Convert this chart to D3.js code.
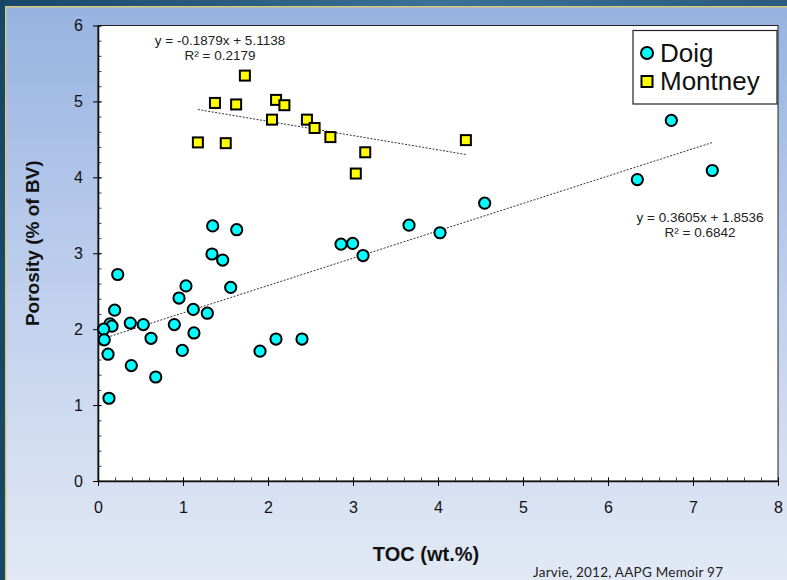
<!DOCTYPE html>
<html>
<head>
<meta charset="utf-8">
<script src="https://cdn.jsdelivr.net/npm/d3@7"></script>
<style>
  html, body { margin: 0; padding: 0; background: #1b4a6e; }
  svg { display: block; font-family: "Liberation Sans", Arial, sans-serif; }
</style>
</head>
<body>
<svg id="chart" width="787" height="580"></svg>
<script>
// data (TOC wt.% vs porosity % of BV)
const doigToc = [1.349, 1.632, 1.341, 1.467, 0.232, 1.035, 1.561, 0.953, 1.121, 0.196,
                 1.286, 0.380, 0.533, 0.898, 0.141, 0.165, 0.067, 1.129, 0.624, 0.074,
                 0.992, 0.118, 1.906, 2.094, 2.400, 0.392, 0.679, 0.129, 2.859, 2.996,
                 3.118, 3.659, 6.745, 7.227, 6.345, 4.549, 4.024];
const doigPor = [3.36, 3.31, 2.99, 2.91, 2.72, 2.57, 2.55, 2.41, 2.26, 2.25,
                 2.21, 2.08, 2.06, 2.06, 2.07, 2.04, 2.00, 1.95, 1.88, 1.86,
                 1.72, 1.67, 1.71, 1.87, 1.87, 1.52, 1.37, 1.09, 3.12, 3.13,
                 2.97, 3.37, 4.75, 4.09, 3.97, 3.66, 3.27];

const montneyToc = [1.175, 1.376, 1.503, 1.625, 1.728, 2.095, 2.047, 2.193, 2.458, 2.548,
                    2.734, 3.144, 3.033, 4.328];
const montneyPor = [4.46, 4.98, 4.45, 4.96, 5.34, 5.02, 4.76, 4.95, 4.76, 4.65,
                    4.53, 4.33, 4.05, 4.49];

// linear fits as printed on the chart
const doigFit = { slope: 0.3605, intercept: 1.8536, label: "y = 0.3605x + 1.8536", r2: "R² = 0.6842" };
const montneyFit = { slope: -0.1879, intercept: 5.1138, label: "y = -0.1879x + 5.1138", r2: "R² = 0.2179" };

const xTicks = [0, 1, 2, 3, 4, 5, 6, 7, 8];
const yTicks = [0, 1, 2, 3, 4, 5, 6];
const seriesNames = ["Doig", "Montney"];

const svg = d3.select("#chart");
const W = 787, H = 580;
const margin = { top: 25.5, right: 9, bottom: 99, left: 98 };

// ---- slide background ----
const defs = svg.append("defs");
const topGrad = defs.append("linearGradient").attr("id", "topbar").attr("x1", 0).attr("x2", 1);
topGrad.append("stop").attr("offset", "0%").attr("stop-color", "#184669");
topGrad.append("stop").attr("offset", "55%").attr("stop-color", "#3b7197");
topGrad.append("stop").attr("offset", "100%").attr("stop-color", "#2a5b80");

const panelGrad = defs.append("linearGradient").attr("id", "panel")
    .attr("x1", 0).attr("x2", 0).attr("y1", 0).attr("y2", 1);
panelGrad.append("stop").attr("offset", "0%").attr("stop-color", "#97b3e1");
panelGrad.append("stop").attr("offset", "45%").attr("stop-color", "#bccdec");
panelGrad.append("stop").attr("offset", "100%").attr("stop-color", "#e2e9f5");

svg.append("rect").attr("width", W).attr("height", H).attr("fill", "#174869");
svg.append("rect").attr("x", 0).attr("y", 0).attr("width", W).attr("height", 7).attr("fill", "url(#topbar)");
svg.append("rect").attr("x", 5).attr("y", 6).attr("width", W - 5).attr("height", H - 6).attr("fill", "#d9c97a");
svg.append("rect").attr("x", 6.5).attr("y", 7.5).attr("width", W - 6.5).attr("height", H - 7.5).attr("fill", "url(#panel)");

// ---- scales ----
const x = d3.scaleLinear().domain([0, 8]).range([margin.left, W - margin.right]);
const y = d3.scaleLinear().domain([0, 6]).range([H - margin.bottom, margin.top]);

// plot area
svg.append("rect")
    .attr("x", x(0)).attr("y", y(6))
    .attr("width", x(8) - x(0)).attr("height", y(0) - y(6))
    .attr("fill", "#fff").attr("stroke", "#222").attr("stroke-width", 1);

// ---- axes ----
const minorX = d3.range(0, 8.001, 0.2);
const minorY = d3.range(0, 6.001, 0.2);

svg.append("g").attr("transform", `translate(0,${y(0)})`)
    .call(d3.axisBottom(x).tickValues(minorX).tickSize(-3.5).tickFormat(""))
    .call(g => g.select(".domain").remove())
    .call(g => g.selectAll("line").attr("stroke", "#444"));

svg.append("g").attr("transform", `translate(${x(0)},0)`)
    .call(d3.axisLeft(y).tickValues(minorY).tickSize(-3.5).tickFormat(""))
    .call(g => g.select(".domain").remove())
    .call(g => g.selectAll("line").attr("stroke", "#444"));

const xAxis = svg.append("g").attr("transform", `translate(0,${y(0)})`)
    .call(d3.axisBottom(x).tickValues(xTicks).tickFormat(d3.format("d"))
        .tickSize(5).tickPadding(16).tickSizeOuter(0));
xAxis.selectAll(".tick line").attr("y1", -3.5);
xAxis.select(".domain").attr("stroke", "#111").attr("stroke-width", 1.6);
xAxis.selectAll("text").attr("font-size", 16).attr("fill", "#111")
    .attr("font-family", "'Liberation Sans', Arial, sans-serif");

const yAxis = svg.append("g").attr("transform", `translate(${x(0)},0)`)
    .call(d3.axisLeft(y).tickValues(yTicks).tickFormat(d3.format("d"))
        .tickSize(5).tickPadding(10).tickSizeOuter(0));
yAxis.selectAll(".tick line").attr("x1", 3.5);
yAxis.select(".domain").attr("stroke", "#111").attr("stroke-width", 1.6);
yAxis.selectAll("text").attr("font-size", 16).attr("fill", "#111")
    .attr("font-family", "'Liberation Sans', Arial, sans-serif");

// axis titles
svg.append("text")
    .attr("x", (x(0) + x(8)) / 2 - 12).attr("y", 561)
    .attr("text-anchor", "middle").attr("font-weight", "bold").attr("font-size", 20)
    .attr("fill", "#111").text("TOC (wt.%)");

svg.append("text")
    .attr("transform", `translate(39,${(y(0) + y(6)) / 2 - 10}) rotate(-90)`)
    .attr("text-anchor", "middle").attr("font-weight", "bold").attr("font-size", 19)
    .attr("fill", "#111").text("Porosity (% of BV)");

// ---- trend lines ----
function fitLine(xs, fit) {
    const [x0, x1] = d3.extent(xs);
    return [[x0, fit.slope * x0 + fit.intercept], [x1, fit.slope * x1 + fit.intercept]];
}
const line = d3.line().x(d => x(d[0])).y(d => y(d[1]));

svg.append("path").datum(fitLine(doigToc, doigFit))
    .attr("d", line).attr("fill", "none").attr("stroke", "#333")
    .attr("stroke-width", 1).attr("stroke-dasharray", "2,1.5");
svg.append("path").datum(fitLine(montneyToc, montneyFit))
    .attr("d", line).attr("fill", "none").attr("stroke", "#333")
    .attr("stroke-width", 1).attr("stroke-dasharray", "2,1.5");

// ---- points ----
const doig = doigToc.map((v, i) => [v, doigPor[i]]);
const montney = montneyToc.map((v, i) => [v, montneyPor[i]]);

svg.append("g").selectAll("circle").data(doig).enter().append("circle")
    .attr("cx", d => x(d[0])).attr("cy", d => y(d[1])).attr("r", 5.6)
    .attr("fill", "#00ffff").attr("stroke", "#000").attr("stroke-width", 2);

const sq = 10;
svg.append("g").selectAll("rect").data(montney).enter().append("rect")
    .attr("x", d => x(d[0]) - sq / 2).attr("y", d => y(d[1]) - sq / 2)
    .attr("width", sq).attr("height", sq)
    .attr("fill", "#ffff00").attr("stroke", "#000").attr("stroke-width", 2);

// ---- equations ----
function equation(fit, cx, cy) {
    const t = svg.append("text").attr("text-anchor", "middle")
        .attr("font-size", 13.5).attr("fill", "#222");
    t.append("tspan").attr("x", cx).attr("y", cy).text(fit.label);
    t.append("tspan").attr("x", cx).attr("y", cy + 15).text(fit.r2);
}
equation(montneyFit, 220, 45);
equation(doigFit, 700, 222);

// ---- legend ----
const legend = svg.append("g");
legend.append("rect").attr("x", 633).attr("y", 30.5).attr("width", 144).attr("height", 73.5)
    .attr("fill", "#fff").attr("stroke", "#222").attr("stroke-width", 1.2);
legend.append("circle").attr("cx", 647).attr("cy", 53).attr("r", 6)
    .attr("fill", "#00ffff").attr("stroke", "#000").attr("stroke-width", 2);
legend.append("rect").attr("x", 641.5).attr("y", 76).attr("width", 11).attr("height", 11)
    .attr("fill", "#ffff00").attr("stroke", "#000").attr("stroke-width", 2);
legend.selectAll("text.lg").data(seriesNames).enter().append("text")
    .attr("class", "lg")
    .attr("x", 660).attr("y", (d, i) => 62 + i * 28)
    .attr("font-size", 26).attr("fill", "#111").text(d => d);

// ---- source note ----
svg.append("text").attr("x", 533).attr("y", 577)
    .attr("font-family", "Lato, 'Liberation Sans', sans-serif")
    .attr("font-size", 13.5).attr("fill", "#222")
    .attr("textLength", 190).attr("lengthAdjust", "spacing")
    .text("Jarvie, 2012, AAPG  Memoir  97");
</script>
</body>
</html>
